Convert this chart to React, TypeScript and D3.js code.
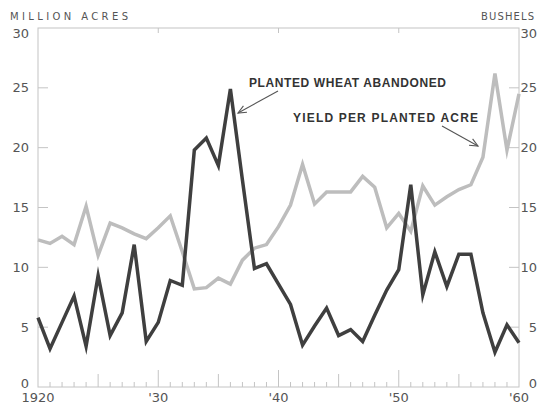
import React from "react";
import * as d3 from "d3";

const years: number[] = d3.range(1920, 1961);

// Planted wheat abandoned (million acres), 1920-1960
const abandoned: number[] = [
  5.8, 3.2, 5.4, 7.6, 3.4, 9.3, 4.3, 6.2, 11.9, 3.8,
  5.4, 8.9, 8.5, 19.8, 20.8, 18.5, 24.9, 17.3, 9.9, 10.3,
  8.6, 6.9, 3.5, 5.1, 6.6, 4.3, 4.8, 3.8, 6.0, 8.1,
  9.8, 16.9, 7.7, 11.3, 8.4, 11.1, 11.1, 6.2, 2.9, 5.2,
  3.7,
];

// Yield per planted acre (bushels), 1920-1960
const yieldPerAcre: number[] = [
  12.3, 12.0, 12.6, 11.9, 15.1, 11.0, 13.7, 13.3, 12.8, 12.4,
  13.3, 14.3, 11.3, 8.2, 8.3, 9.1, 8.6, 10.6, 11.6, 11.9,
  13.4, 15.2, 18.6, 15.3, 16.3, 16.3, 16.3, 17.6, 16.7, 13.3,
  14.5, 13.0, 16.8, 15.2, 15.9, 16.5, 16.9, 19.2, 26.2, 19.8,
  24.5,
];

const yTicks: number[] = [0, 5, 10, 15, 20, 25, 30];
const xTickYears: number[] = [1920, 1930, 1940, 1950, 1960];
const xTickLabels: string[] = ["1920", "'30", "'40", "'50", "'60"];

const W = 544;
const H = 406;

export default function App() {
  const x = d3.scaleLinear().domain([1920, 1960]).range([38, 519]);
  const y = d3.scaleLinear().domain([0, 30]).range([387, 28]);
  const left = x(1920);
  const right = x(1960);
  const top = y(30);
  const bottom = y(0);

  const line = d3
    .line<number>()
    .x((_, i) => x(years[i]))
    .y((d) => y(d));

  const axisColor = "#c4c4c4";
  const labelColor = "#555";
  const tickFont = "'DejaVu Sans', sans-serif";
  const annFont = "'Liberation Sans', Arial, sans-serif";

  const labelDy = (v: number) => (v === 30 ? 5 : v === 0 ? -4 : 0);

  const arrow = (x1: number, y1: number, x2: number, y2: number) => {
    const ang = Math.atan2(y2 - y1, x2 - x1);
    const len = 9;
    const spread = 0.42;
    const a1 = ang + Math.PI - spread;
    const a2 = ang + Math.PI + spread;
    return (
      <g stroke="#555" strokeWidth={1.1} fill="none">
        <line x1={x1} y1={y1} x2={x2} y2={y2} />
        <polyline
          points={`${x2 + len * Math.cos(a1)},${y2 + len * Math.sin(a1)} ${x2},${y2} ${
            x2 + len * Math.cos(a2)
          },${y2 + len * Math.sin(a2)}`}
        />
      </g>
    );
  };

  return (
    <svg
      width={W}
      height={H}
      style={{ position: "absolute", left: 0, top: 0, background: "#fff" }}
    >
      {/* frame */}
      <rect x={left} y={top} width={right - left} height={bottom - top} fill="none" stroke={axisColor} strokeWidth={1} />

      {/* left and right inside ticks */}
      {yTicks
        .filter((v) => v > 0 && v < 30)
        .map((v) => (
          <g key={"yt" + v} stroke={axisColor} strokeWidth={1}>
            <line x1={left} x2={left + 10} y1={y(v)} y2={y(v)} />
            <line x1={right} x2={right - 10} y1={y(v)} y2={y(v)} />
          </g>
        ))}

      {/* top decade ticks */}
      {[1930, 1940, 1950].map((yr) => (
        <line key={"tt" + yr} x1={x(yr)} x2={x(yr)} y1={top} y2={top + 5} stroke={axisColor} />
      ))}

      {/* bottom yearly ticks */}
      {years
        .filter((yr) => yr > 1920 && yr < 1960)
        .map((yr) => {
          const len = yr % 10 === 0 ? 17 : yr % 5 === 0 ? 13 : 5;
          return (
            <line key={"bt" + yr} x1={x(yr)} x2={x(yr)} y1={bottom} y2={bottom - len} stroke={axisColor} />
          );
        })}

      {/* y tick labels */}
      {yTicks.map((v) => (
        <g key={"yl" + v} fontFamily={tickFont} fontSize={13} fill={labelColor}>
          <text x={29} y={y(v) + labelDy(v)} textAnchor="end" dominantBaseline="central">
            {v}
          </text>
          <text x={537} y={y(v) + labelDy(v)} textAnchor="end" dominantBaseline="central">
            {v}
          </text>
        </g>
      ))}

      {/* x tick labels */}
      {xTickYears.map((yr, i) => (
        <text key={"xl" + yr} x={x(yr)} y={402} textAnchor="middle" fontFamily={tickFont} fontSize={13} fill={labelColor}>
          {xTickLabels[i]}
        </text>
      ))}

      {/* axis titles */}
      <text x={10} y={20} fontFamily={tickFont} fontSize={10} fill={labelColor} textLength={118} lengthAdjust="spacing">
        MILLION ACRES
      </text>
      <text x={481} y={20} fontFamily={tickFont} fontSize={10} fill={labelColor} textLength={53} lengthAdjust="spacing">
        BUSHELS
      </text>

      {/* series */}
      <path d={line(yieldPerAcre) || ""} fill="none" stroke="#bdbdbd" strokeWidth={3.5} strokeLinejoin="miter" strokeMiterlimit={6} />
      <path d={line(abandoned) || ""} fill="none" stroke="#3f3f3f" strokeWidth={3.5} strokeLinejoin="miter" strokeMiterlimit={6} />

      {/* annotations */}
      <text x={249} y={87} fontFamily={annFont} fontWeight="bold" fontSize={12} fill="#333" textLength={197} lengthAdjust="spacing">
        PLANTED WHEAT ABANDONED
      </text>
      {arrow(278, 91, 238, 113)}
      <text x={293} y={122} fontFamily={annFont} fontWeight="bold" fontSize={12} fill="#333" textLength={185} lengthAdjust="spacing">
        YIELD PER PLANTED ACRE
      </text>
      {arrow(442, 126, 478, 146)}
    </svg>
  );
}
